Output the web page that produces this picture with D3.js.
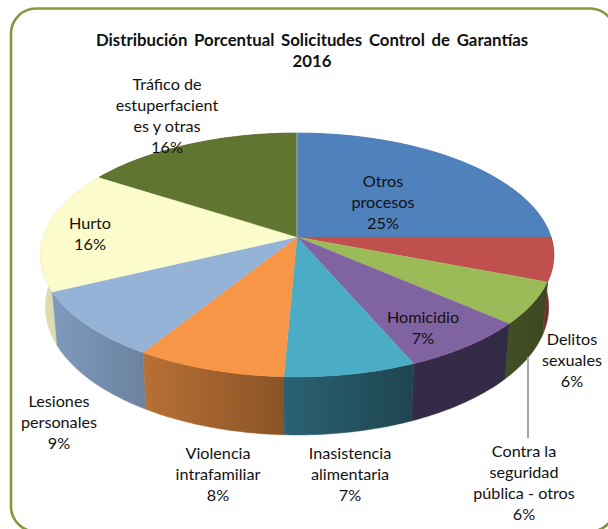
<!DOCTYPE html>
<html><head><meta charset="utf-8">
<style>html,body{margin:0;padding:0;background:#fff;overflow:hidden}svg{display:block}text{font-family:Lato,"Open Sans",sans-serif;fill:#111}</style>
<script src="https://cdnjs.cloudflare.com/ajax/libs/d3/7.8.5/d3.min.js"></script>
</head><body><svg id="c" width="608" height="529"></svg>
<script>
const categories=["Otros procesos","Contra la seguridad pública - otros","Delitos sexuales","Homicidio","Inasistencia alimentaria","Violencia intrafamiliar","Lesiones personales","Hurto","Tráfico de estupefacientes y otras"];
const values=[25,5.8,5.6,7.1,7.2,8.2,9,16.2,15.9];
const labelLines=[["Otros","procesos"],["Contra la","seguridad","pública - otros"],["Delitos","sexuales"],["Homicidio"],["Inasistencia","alimentaria"],["Violencia","intrafamiliar"],["Lesiones","personales"],["Hurto"],["Tráfico de","estuperfacient","es y otras"]];
const titleLines=["Distribución Porcentual Solicitudes Control de Garantías","2016"];
const topColors=["#4f81bd","#c0504d","#9bbb59","#8064a2","#4bacc6","#f79646","#95b3d7","#fbfbcb","#5f7530"];
const wallFrom=["#3f6897","#7d3331","#434f24","#352b47","#2a6273","#b87035","#7f9abd","#dcdcb0","#4a5c26"];
const wallTo=["#3f6897","#612826","#3c4722","#332a45","#1f4450","#8a5427","#6b829f","#dcdcb0","#4a5c26"];
const labelCenters=[[383,181.5],[524,451.5],[572,339.5],[423,317.5],[350,453.5],[218,453.5],[59,401.5],[90,223.5],[167,84.5]];
const cx=297,cy=237,a=254,b=119.3,p=0.1475,lineH=21;
const topPt=t=>{const x=Math.sin(t),y=-Math.cos(t),d=1-p*y;return [cx+a*x/d,cy+b*y/d]};
const botPt=t=>{const x=Math.sin(t),y=-Math.cos(t),d=1-p*y;return [cx+.98*a*x/d,cy+51+1.05*b*y/d]};
const svg=d3.select("#c");
const defs=svg.append("defs");
const arcs=d3.pie().sort(null).value(d=>d)(values);
const line=d3.line();
const samples=d=>d3.range(0,41).map(i=>d.startAngle+(d.endAngle-d.startAngle)*i/40);
// walls, far to near
const order=d3.range(arcs.length).sort((i,j)=>{
  const m=k=>d3.max(samples(arcs[k]).map(t=>topPt(t)[1]));return m(i)-m(j)});
order.forEach(i=>{
  const s=samples(arcs[i]),t=s.map(topPt),bt=s.map(botPt).reverse();
  const xs=t.concat(bt).map(q=>q[0]);
  const g=defs.append("linearGradient").attr("id","w"+i).attr("gradientUnits","userSpaceOnUse")
    .attr("x1",d3.min(xs)).attr("x2",d3.max(xs)).attr("y1",0).attr("y2",0);
  g.append("stop").attr("offset",0).attr("stop-color",wallFrom[i]);
  g.append("stop").attr("offset",1).attr("stop-color",wallTo[i]);
  svg.append("path").attr("d",line(t.concat(bt))+"Z").attr("fill",`url(#w${i})`).attr("stroke",`url(#w${i})`).attr("stroke-width",.5);
});
// top faces
arcs.forEach((d,i)=>{
  svg.append("path").attr("d",line([[cx,cy]].concat(samples(d).map(topPt)))+"Z").attr("fill",topColors[i]).attr("stroke",topColors[i]).attr("stroke-width",.3);
});
svg.append("line").attr("x1",cx).attr("x2",cx).attr("y1",cy).attr("y2",133).attr("stroke","#a9b4c4").attr("stroke-width",1);
// leader
svg.append("line").attr("x1",528).attr("x2",528).attr("y1",357).attr("y2",438).attr("stroke","#a6a6a6").attr("stroke-width",2);
// frame
svg.append("rect").attr("x",11).attr("y",8.5).attr("width",604).attr("height",523).attr("rx",25).attr("fill","none").attr("stroke","#7f9a3f").attr("stroke-width",2.6);
// title
titleLines.forEach((s,i)=>svg.append("text").attr("x",312).attr("y",40.5+i*21).attr("dy",".35em").attr("text-anchor","middle").attr("font-size",16.8).attr("word-spacing",2.6).attr("font-weight",700).text(s));
// labels
arcs.forEach((d,i)=>{
  const lines=labelLines[i].concat([Math.round(values[i])+"%"]);
  lines.forEach((s,k)=>svg.append("text").attr("x",labelCenters[i][0]).attr("y",labelCenters[i][1]+k*lineH).attr("dy",".35em").attr("text-anchor","middle").attr("font-size",16.2).text(s));
});
</script></body></html>
